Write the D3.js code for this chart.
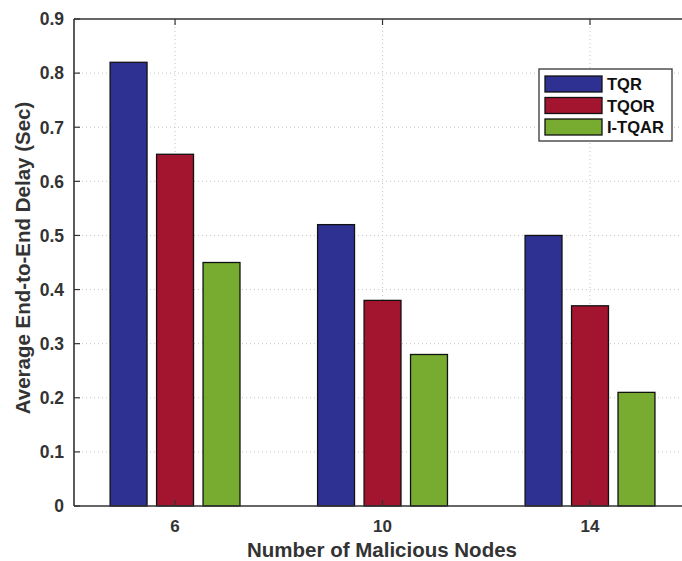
<!DOCTYPE html>
<html>
<head>
<meta charset="utf-8">
<script src="https://cdn.jsdelivr.net/npm/d3@7/dist/d3.min.js"></script>
<style>
  html, body { margin: 0; padding: 0; background: #fff; }
  svg { display: block; font-family: "Liberation Sans", Arial, Helvetica, sans-serif; }
</style>
</head>
<body>
<svg id="chart" width="682" height="561"></svg>
<script>
// Average end-to-end delay per protocol vs. number of malicious nodes
const categories = ["6", "10", "14"];
const seriesNames = ["TQR", "TQOR", "I-TQAR"];
const tqr   = [0.82, 0.52, 0.50];
const tqor  = [0.65, 0.38, 0.37];
const itqar = [0.45, 0.28, 0.21];
const yTicks = [0, 0.1, 0.2, 0.3, 0.4, 0.5, 0.6, 0.7, 0.8, 0.9];
const colors = ["#2E3192", "#A3142F", "#77AC30"];

const series = [tqr, tqor, itqar];

const svg = d3.select("#chart");
const plot = { left: 74, top: 19, bottom: 506 };
const textColor = "#333";
const axisColor = "#333";

// x: category index -> pixel; the axes box runs past the right edge
const x = d3.scaleLinear().domain([-0.487, 2.5]).range([plot.left, 693.75]);
const y = d3.scaleLinear().domain([0, 0.9]).range([plot.bottom, plot.top]);

const barOffset = 0.224;   // spacing between bars of a group (category units)
const barWidth = 0.178;    // bar width (category units)

// grid
const grid = svg.append("g").attr("stroke", "#c6c6c6").attr("stroke-width", 1)
  .attr("stroke-dasharray", "1,3");
grid.selectAll("line.h").data(yTicks.slice(1, -1)).join("line")
  .attr("x1", plot.left).attr("x2", 682)
  .attr("y1", d => y(d)).attr("y2", d => y(d));
grid.selectAll("line.v").data(categories).join("line")
  .attr("x1", (d, i) => x(i)).attr("x2", (d, i) => x(i))
  .attr("y1", plot.top).attr("y2", plot.bottom);

// bars
const bars = [];
series.forEach((vals, s) => vals.forEach((v, i) => bars.push({ s, i, v })));
svg.append("g").selectAll("rect").data(bars).join("rect")
  .attr("x", d => x(d.i + (d.s - 1) * barOffset - barWidth / 2))
  .attr("width", d => x(barWidth) - x(0))
  .attr("y", d => y(d.v))
  .attr("height", d => y(0) - y(d.v))
  .attr("fill", d => colors[d.s])
  .attr("stroke", "#111")
  .attr("stroke-width", 1.3);

// axes box (left, bottom, top)
const axisG = svg.append("g").attr("stroke", axisColor).attr("stroke-width", 1.6).attr("fill", "none");
axisG.append("line").attr("x1", plot.left).attr("x2", plot.left).attr("y1", plot.top).attr("y2", plot.bottom);
axisG.append("line").attr("x1", plot.left).attr("x2", 682).attr("y1", plot.bottom).attr("y2", plot.bottom);
axisG.append("line").attr("x1", plot.left).attr("x2", 682).attr("y1", plot.top).attr("y2", plot.top);

// inward ticks
const tickG = svg.append("g").attr("stroke", axisColor).attr("stroke-width", 1.2);
tickG.selectAll("line.yt").data(yTicks).join("line")
  .attr("x1", plot.left).attr("x2", plot.left + 6)
  .attr("y1", d => y(d)).attr("y2", d => y(d));
tickG.selectAll("line.xb").data(categories).join("line")
  .attr("x1", (d, i) => x(i)).attr("x2", (d, i) => x(i))
  .attr("y1", plot.bottom).attr("y2", plot.bottom - 6);
tickG.selectAll("line.xt").data(categories).join("line")
  .attr("x1", (d, i) => x(i)).attr("x2", (d, i) => x(i))
  .attr("y1", plot.top).attr("y2", plot.top + 6);

// tick labels
svg.append("g").selectAll("text").data(yTicks).join("text")
  .attr("x", plot.left - 10).attr("y", d => y(d)).attr("dy", "0.36em")
  .attr("text-anchor", "end").attr("font-size", 17.5).attr("font-weight", "bold")
  .attr("fill", textColor).text(d => d === 0 ? "0" : d3.format(".1f")(d));
svg.append("g").selectAll("text").data(categories).join("text")
  .attr("x", (d, i) => x(i)).attr("y", 532)
  .attr("text-anchor", "middle").attr("font-size", 17).attr("font-weight", "bold")
  .attr("fill", textColor).text(d => d);

// axis titles
svg.append("text").attr("x", 382).attr("y", 557).attr("text-anchor", "middle")
  .attr("font-size", 20.5).attr("font-weight", "bold").attr("fill", textColor)
  .text("Number of Malicious Nodes");
svg.append("text").attr("transform", "translate(30,258) rotate(-90)")
  .attr("text-anchor", "middle").attr("font-size", 20.5).attr("font-weight", "bold")
  .attr("fill", textColor).text("Average End-to-End Delay (Sec)");

// legend
const legend = svg.append("g");
legend.append("rect").attr("x", 539).attr("y", 69).attr("width", 133).attr("height", 72)
  .attr("fill", "#fff").attr("stroke", "#444").attr("stroke-width", 1.4);
const items = legend.selectAll("g").data(seriesNames).join("g")
  .attr("transform", (d, i) => `translate(545,${76 + i * 21.5})`);
items.append("rect").attr("width", 57).attr("height", 16)
  .attr("fill", (d, i) => colors[i]).attr("stroke", "#111").attr("stroke-width", 1.3);
items.append("text").attr("x", 62).attr("y", 14)
  .attr("font-size", 16.5).attr("font-weight", "bold").attr("fill", "#111").text(d => d);
</script>
</body>
</html>
